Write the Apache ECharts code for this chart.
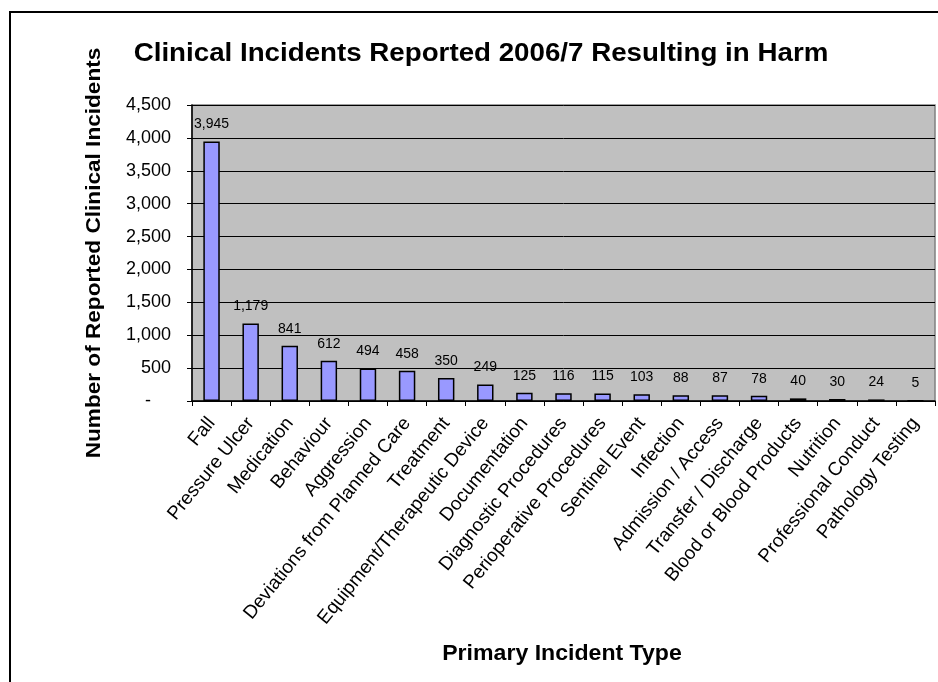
<!DOCTYPE html>
<html>
<head>
<meta charset="utf-8">
<title>Clinical Incidents Reported 2006/7 Resulting in Harm</title>
<script src="https://cdn.jsdelivr.net/npm/echarts@6/dist/echarts.min.js"></script>
<style>
  html, body { margin: 0; padding: 0; background: #fff; }
  #chart { width: 938px; height: 682px; }
</style>
</head>
<body>
<div id="chart"></div>
<script>
// Incident categories, in descending order of reported count
const categories = [
  'Fall', 'Pressure Ulcer', 'Medication', 'Behaviour', 'Aggression',
  'Deviations from Planned Care', 'Treatment', 'Equipment/Therapeutic Device',
  'Documentation', 'Diagnostic Procedures', 'Perioperative Procedures',
  'Sentinel Event', 'Infection', 'Admission / Access', 'Transfer / Discharge',
  'Blood or Blood Products', 'Nutrition', 'Professional Conduct', 'Pathology Testing'
];

// Number of reported clinical incidents resulting in harm
const incidents = [3945, 1179, 841, 612, 494, 458, 350, 249, 125, 116, 115, 103, 88, 87, 78, 40, 30, 24, 5];

// Value axis ticks
const yTicks = [0, 500, 1000, 1500, 2000, 2500, 3000, 3500, 4000, 4500];

const FONT = 'Arial, "Liberation Sans", sans-serif';
const fmt = v => v === 0 ? '-    ' : v.toLocaleString('en-US');

const chart = echarts.init(document.getElementById('chart'), null, { renderer: 'canvas' });

chart.setOption({
  backgroundColor: '#ffffff',
  animation: false,
  grid: {
    left: 192, top: 105, right: 3, bottom: 281,
    show: true,
    backgroundColor: '#c0c0c0',
    borderColor: '#808080',
    borderWidth: 1.5
  },
  xAxis: {
    type: 'category',
    data: categories,
    boundaryGap: true,
    axisLine: { lineStyle: { color: '#000', width: 1.5 } },
    axisTick: { show: true, inside: false, length: 5, alignWithLabel: false, lineStyle: { color: '#000', width: 1 } },
    axisLabel: {
      rotate: 51,
      interval: 0,
      margin: 19,
      color: '#000',
      fontFamily: FONT,
      fontSize: 19
    }
  },
  yAxis: {
    type: 'value',
    min: yTicks[0],
    max: yTicks[yTicks.length - 1],
    interval: yTicks[1] - yTicks[0],
    axisLine: { show: true, lineStyle: { color: '#000', width: 1.5 } },
    axisTick: { show: true, length: 5, lineStyle: { color: '#000', width: 1 } },
    splitLine: { show: true, lineStyle: { color: '#000', width: 1 } },
    axisLabel: {
      margin: 21,
      color: '#000',
      fontFamily: FONT,
      fontSize: 18,
      formatter: fmt
    }
  },
  series: [{
    type: 'bar',
    data: incidents,
    barWidth: '42%',
    itemStyle: { color: '#9999ff', borderColor: '#000', borderWidth: 1.5 },
    label: {
      show: true,
      position: 'top',
      distance: 10,
      color: '#000',
      fontFamily: FONT,
      fontSize: 14,
      formatter: p => p.value.toLocaleString('en-US')
    }
  }],
  graphic: [
    {
      type: 'rect',
      silent: true,
      z: 100,
      shape: { x: 10, y: 12, width: 960, height: 720 },
      style: { fill: null, stroke: '#000', lineWidth: 2 }
    },
    {
      type: 'text',
      x: 481, y: 54,
      scaleX: 1.066,
      style: {
        text: 'Clinical Incidents Reported 2006/7 Resulting in Harm',
        font: 'bold 26px ' + FONT,
        fill: '#000',
        align: 'center',
        verticalAlign: 'middle'
      }
    },
    {
      type: 'text',
      x: 94, y: 253,
      rotation: Math.PI / 2,
      scaleX: 1.13,
      style: {
        text: 'Number of Reported Clinical Incidents',
        font: 'bold 20px ' + FONT,
        fill: '#000',
        align: 'center',
        verticalAlign: 'middle'
      }
    },
    {
      type: 'text',
      x: 562, y: 654,
      scaleX: 1.05,
      style: {
        text: 'Primary Incident Type',
        font: 'bold 22px ' + FONT,
        fill: '#000',
        align: 'center',
        verticalAlign: 'middle'
      }
    }
  ]
});
</script>
</body>
</html>
